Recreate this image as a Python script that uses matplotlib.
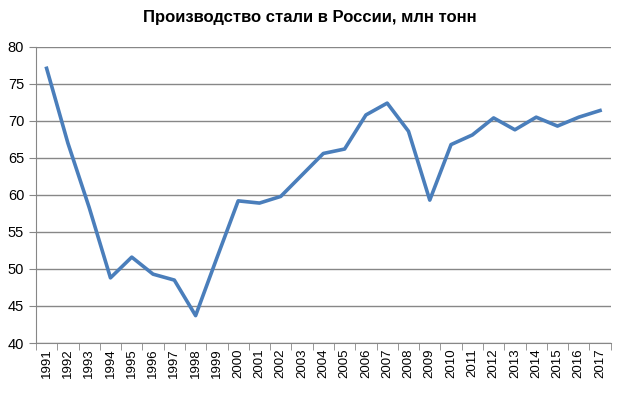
import matplotlib
matplotlib.use("Agg")
import matplotlib.pyplot as plt
import numpy as np

# steel production in Russia, mln tonnes
years = ["1991", "1992", "1993", "1994", "1995", "1996", "1997", "1998", "1999",
         "2000", "2001", "2002", "2003", "2004", "2005", "2006", "2007", "2008",
         "2009", "2010", "2011", "2012", "2013", "2014", "2015", "2016", "2017"]
steel = [77.1, 67.0, 58.3, 48.8, 51.6, 49.3, 48.5, 43.7, 51.5,
         59.2, 58.9, 59.8, 62.7, 65.6, 66.2, 70.8, 72.4, 68.6,
         59.3, 66.8, 68.1, 70.4, 68.8, 70.5, 69.3, 70.5, 71.4]

plt.rcParams['font.family'] = ['Liberation Sans', 'DejaVu Sans']

fig = plt.figure(figsize=(6.2, 3.97), dpi=100)
ax = fig.add_axes([0.058, 0.136, 0.927, 0.746])

x = np.arange(len(years))
ax.plot(x, steel, color="#4A7EBB", linewidth=2.6, solid_joinstyle="round")

ax.set_xlim(-0.5, len(years) - 0.5)
ax.set_ylim(40, 80)
ax.set_yticks(range(40, 81, 5))
ax.yaxis.grid(True, color="#878787", linewidth=1)
ax.set_axisbelow(True)

ax.set_xticks(x)
ax.set_xticklabels(years, rotation=90, fontsize=9.5)
ax.set_xticks(np.arange(-0.5, len(years)), minor=True)
ax.tick_params(axis="x", which="major", length=0, pad=4)
ax.tick_params(axis="x", which="minor", length=5, color="#878787")
ax.tick_params(axis="y", length=5, color="#878787", labelsize=10.5)

for side in ["top", "right"]:
    ax.spines[side].set_visible(False)
for side in ["left", "bottom"]:
    ax.spines[side].set_color("#878787")

fig.suptitle("Производство стали в России, млн тонн", fontsize=12,
             fontweight="bold", y=0.975)

fig.savefig("out.png", dpi=100)
